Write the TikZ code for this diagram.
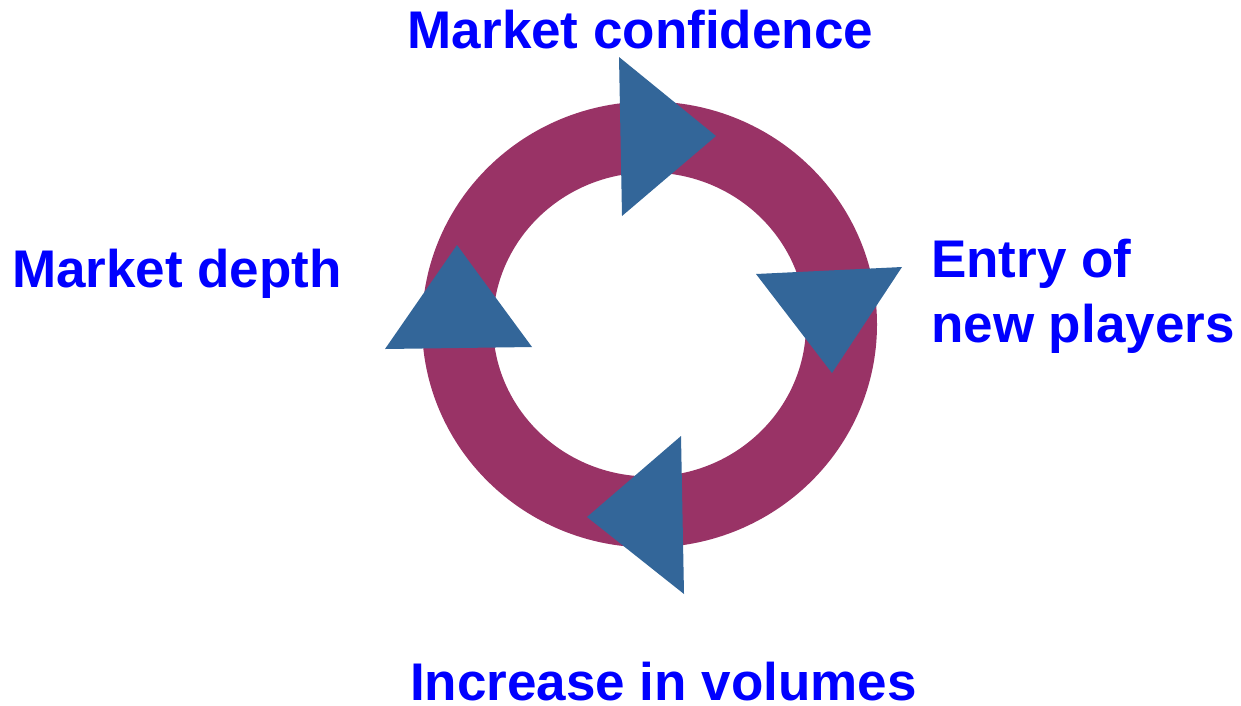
\documentclass[tikz,border=0pt]{standalone}
\usepackage{fontspec}
\setmainfont{Liberation Sans}
\usetikzlibrary{arrows.meta}
\definecolor{ringred}{RGB}{153,51,102}
\definecolor{headblue}{RGB}{51,102,153}
\definecolor{labelblue}{RGB}{0,0,255}

\begin{document}
\begin{tikzpicture}[x=1pt,y=-1pt,font=\bfseries\fontsize{53}{65}\selectfont]
\tikzstyle{cyclelabel}=[text=labelblue,inner sep=0pt]
\tikzstyle{head}=[fill=headblue]
\useasboundingbox (0,0) rectangle (1241,705);
\draw[ringred,line width=71pt] (649.5,324.5) ellipse [x radius=192pt,y radius=187.5pt];
\fill[head] (619,57) -- (716,136) -- (622,216) -- cycle;
\fill[head] (756,274) -- (902,267) -- (832,373) -- cycle;
\fill[head] (681,436) -- (587,517) -- (684,594) -- cycle;
\fill[head] (457,245) -- (385,349) -- (532,347) -- cycle;
\node[cyclelabel,anchor=base] (confidence) at (640.5,48) {Market confidence};
\node[cyclelabel,anchor=base] (depth) at (177,287) {Market depth};
\node[cyclelabel,anchor=base west,align=left] (entry) at (931,342) {Entry of\\new players};
\node[cyclelabel,anchor=base] (volumes) at (663.5,700) {Increase in volumes};
\end{tikzpicture}
\end{document}
